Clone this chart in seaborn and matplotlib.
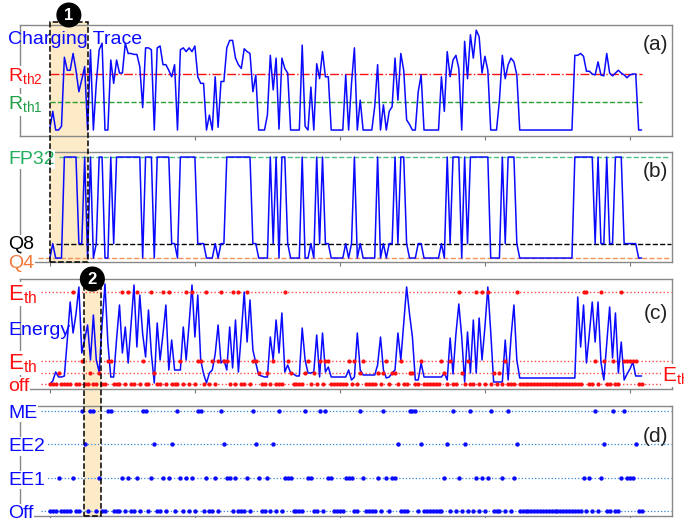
import numpy as np
import pandas as pd
import seaborn as sns
import matplotlib.pyplot as plt
import matplotlib.transforms as mtransforms
from matplotlib.patches import Rectangle

# ----------------------------------------
# DATA (one value per sample)
# ----------------------------------------

charging = [
    0.02, 0.2, 0, 0, 0.04, 0.78, 0.64, 0.64, 0.82, 0.64,
    0.41, 0.54, 0.68, 0, 0.86, 0, 0.5, 0.86, 0.93, 0,
    0, 0.75, 0.5, 0.75, 0.61, 0.61, 0.93, 0.82, 0.82, 0.81,
    0.81, 0.68, 0.24, 0.88, 0.88, 0.86, 0, 0.88, 0.9, 0.7,
    0.7, 0.64, 0.57, 0.7, 0, 0.86, 0.88, 0.84, 0.88, 0.84,
    0.9, 0.57, 0.5, 0.5, 0, 0.16, 0, 0.57, 0.03, 0.52,
    0.52, 0.88, 0.96, 0.96, 0.77, 0.7, 0.66, 0.87, 0.84, 0.82,
    0.41, 0.59, 0, 0, 0, 0.16, 0.8, 0.43, 0.77, 0.01,
    0.77, 0.66, 0.61, 0, 0, 0, 0, 0.91, 0.04, 0,
    0.46, 0, 0.71, 0.55, 0.84, 0.57, 0.57, 0, 0, 0,
    0, 0, 0.59, 0, 0.5, 0.88, 0, 0.32, 0, 0,
    0, 0, 0.25, 0.7, 0, 0.27, 0, 0.2, 0.25, 0.77,
    0.32, 0.82, 0.64, 0.11, 0.06, 0, 0, 0.41, 0.59, 0,
    0, 0, 0, 0, 0, 0.57, 0.2, 0.84, 0.57, 0.75,
    0.8, 0.66, 0, 0.95, 0.55, 1.02, 0.77, 1.07, 1.0, 0.61,
    0.79, 0.64, 0, 0, 0, 0.32, 0.8, 0.55, 0.7, 0.77,
    0.73, 0.59, 0, 0, 0, 0, 0, 0, 0, 0,
    0, 0, 0, 0, 0, 0, 0, 0, 0, 0,
    0, 0.8, 0.8, 0.82, 0.79, 0.63, 0.63, 0.6, 0.59, 0.73,
    0.59, 0.58, 0.82, 0.61, 0.58, 0.61, 0.64, 0.61, 0.59, 0.56,
    0.59, 0.6, 0.6, 0, 0,
]

# bit width chosen per sample (Q4 / Q8 / FP32)
precision = [
    4, 8, 4, 4, 4, 32, 32, 32, 32, 32,
    8, 8, 32, 4, 32, 4, 8, 32, 32, 4,
    4, 32, 8, 32, 32, 32, 32, 32, 32, 32,
    32, 32, 4, 32, 32, 32, 4, 32, 32, 32,
    32, 32, 8, 8, 4, 32, 32, 32, 32, 32,
    32, 8, 8, 8, 4, 4, 4, 8, 4, 8,
    8, 32, 32, 32, 32, 32, 32, 32, 32, 32,
    8, 8, 4, 4, 4, 4, 32, 8, 32, 4,
    32, 32, 8, 4, 4, 4, 4, 32, 4, 4,
    8, 4, 32, 8, 32, 8, 8, 4, 4, 4,
    4, 4, 8, 4, 8, 32, 4, 8, 4, 4,
    4, 4, 4, 32, 4, 8, 4, 8, 8, 32,
    8, 32, 32, 8, 4, 4, 4, 8, 8, 4,
    4, 4, 4, 4, 4, 8, 4, 32, 8, 32,
    32, 32, 4, 32, 8, 32, 32, 32, 32, 32,
    32, 32, 4, 4, 4, 4, 32, 8, 32, 32,
    32, 8, 4, 4, 4, 4, 4, 4, 4, 4,
    4, 4, 4, 4, 4, 4, 4, 4, 4, 4,
    4, 32, 32, 32, 32, 32, 32, 32, 8, 32,
    8, 8, 32, 8, 8, 32, 32, 32, 8, 8,
    8, 8, 8, 4, 4,
]

energy = [
    0.0, 0.03, 0.12, 0.07, 0.07, 0.08, 0.44, 0.82, 0.51, 0.7,
    0.97, 0.31, 0.45, 0.59, 0.24, 0.69, 0.24, 0.12, 0.6, 1.0,
    0.41, 0.07, 0.07, 0.45, 0.79, 0.31, 0.57, 0.21, 0.6, 0.99,
    0.37, 0.89, 0.5, 0.27, 0.74, 0.3, 0.01, 0.61, 0.24, 0.5,
    0.79, 0.14, 0.44, 0.14, 0.14, 0.14, 0.57, 0.24, 0.6, 0.99,
    0.47, 0.89, 0.24, 0.1, 0.01, 0.11, 0.14, 0.3, 0.59, 0.21,
    0.24, 0.14, 0.57, 0.16, 0.64, 0.12, 0.5, 0.92, 0.42, 0.84,
    0.34, 0.21, 0.09, 0.08, 0.07, 0.07, 0.47, 0.24, 0.64, 0.31,
    0.71, 0.12, 0.19, 0.11, 0.1, 0.08, 0.08, 0.56, 0.24, 0.11,
    0.11, 0.12, 0.49, 0.07, 0.51, 0.12, 0.17, 0.07, 0.07, 0.07,
    0.07, 0.07, 0.07, 0.14, 0.04, 0.07, 0.51, 0.14, 0.09, 0.09,
    0.09, 0.09, 0.09, 0.19, 0.47, 0.14, 0.06, 0.07, 0.11, 0.14,
    0.51, 0.24, 0.6, 0.97, 0.7, 0.47, 0.04, 0.04, 0.21, 0.07,
    0.07, 0.07, 0.07, 0.07, 0.07, 0.07, 0.11, 0.04, 0.46, 0.1,
    0.5, 0.8, 0.47, 0.02, 0.52, 0.11, 0.64, 0.11, 0.66, 0.24,
    0.57, 0.97, 0.52, 0.02, 0.02, 0.02, 0.02, 0.44, 0.04, 0.47,
    0.79, 0.24, 0.06, 0.06, 0.06, 0.06, 0.06, 0.06, 0.06, 0.06,
    0.06, 0.06, 0.06, 0.06, 0.06, 0.06, 0.06, 0.06, 0.06, 0.06,
    0.06, 0.06, 0.87, 0.37, 0.79, 0.21, 0.5, 0.82, 0.42, 0.82,
    0.22, 0.04, 0.4, 0.77, 0.26, 0.71, 0.11, 0.42, 0.04, 0.1,
    0.15, 0.22, 0.08, 0.08, 0.08,
]

# red markers in (c): samples sitting on each threshold line (rest are "off")
mark_hi = [8, 25, 27, 30, 35, 39, 41, 47, 49, 54, 59, 63, 65, 68, 81,
           141, 147, 149, 151, 161, 184, 185, 190, 197]
mark_mid = [11, 20, 21, 32, 45, 51, 52, 56, 58, 60, 61, 70, 71, 77, 82, 89,
            93, 95, 96, 103, 105, 108, 116, 121, 128, 135, 138, 144, 157,
            188, 191, 194, 198, 199, 200, 201, 202]
mark_lo = [3, 14, 17, 36, 72, 75, 83, 88, 91, 107, 113, 115, 118, 119, 124,
           125, 136, 142, 153, 155]

# exit taken in (d): samples per exit (rest are "Off")
exit_me = [11, 14, 15, 20, 21, 32, 33, 44, 51, 52, 59, 70, 79, 88, 93, 95,
           107, 115, 124, 125, 126, 139, 145, 152, 158, 188, 194, 198]
exit_ee2 = [12, 36, 42, 60, 71, 77, 120, 128, 137, 143, 161, 191, 202]
exit_ee1 = [3, 8, 17, 25, 27, 30, 35, 39, 41, 45, 47, 49, 54, 57, 61, 62,
            64, 68, 72, 75, 81, 82, 83, 89, 90, 96, 97, 102, 103, 104, 108,
            113, 116, 118, 119, 136, 141, 147, 149, 151, 156, 160, 184, 186,
            190, 197, 199, 200, 201]

rth1, rth2 = 0.3, 0.6
prec_names = ["FP32", "Q8", "Q4"]
prec_bits = [32, 8, 4]
eth_hi, eth_mid, eth_lo = 0.92, 0.23, 0.11
exit_names = ["Off", "EE1", "EE2", "ME"]

window1 = (0, 13.1)
window2 = (11.7, 17.6)

# ----------------------------------------
# BUILD TABLES
# ----------------------------------------

n = len(charging)
df = pd.DataFrame({"t": np.arange(n), "charging": charging,
                   "precision": precision, "energy": energy})

df["mark"] = 0.0
df.loc[mark_lo, "mark"] = eth_lo
df.loc[mark_mid, "mark"] = eth_mid
df.loc[mark_hi, "mark"] = eth_hi

df["exit"] = 0
df.loc[exit_ee1, "exit"] = 1
df.loc[exit_ee2, "exit"] = 2
df.loc[exit_me, "exit"] = 3

# ----------------------------------------
# FIGURE
# ----------------------------------------

sns.set_theme(style="white")
plt.rcParams["font.family"] = ["Liberation Sans", "DejaVu Sans"]
plt.rcParams["mathtext.fontset"] = "custom"
plt.rcParams["mathtext.rm"] = "Liberation Sans"

W, H = 684, 518
fig = plt.figure(figsize=(W / 100, H / 100), dpi=100)


def px_axes(top, bottom, left=20, right=672):
    return fig.add_axes([left / W, 1 - bottom / H, (right - left) / W, (bottom - top) / H])


ax_a = px_axes(25, 136)
ax_b = px_axes(152, 262)
ax_c = px_axes(279, 389)
ax_d = px_axes(406, 516)
axes = [ax_a, ax_b, ax_c, ax_d]

BLUE = "#0a0aff"
RED = "#ff1010"

# (a) charging trace
sns.lineplot(data=df, x="t", y="charging", ax=ax_a, color=BLUE, lw=1.1, zorder=3)
ax_a.hlines(rth2, 0, n - 1, colors=RED, linestyles="-.", lw=1.0, zorder=2)
ax_a.hlines(rth1, 0, n - 1, colors="#2a9d2a", linestyles="--", lw=1.0, zorder=2)
ax_a.set_ylim(-0.064, 1.125)

# (b) precision
prec_cols = ["#4cc285", "black", "#f4925a"]
prec_ranges = [(3, 213), (2, 214), (-4, 214)]
for bits, col, (x0, x1) in zip(prec_bits, prec_cols, prec_ranges):
    ax_b.hlines(bits, x0, x1, colors=col, linestyles="--", lw=1.0, zorder=2)
sns.lineplot(data=df, x="t", y="precision", ax=ax_b, color=BLUE, lw=1.1, zorder=3)
ax_b.set_ylim(2.9, 33.4)

# (c) energy + threshold markers
for lvl in [eth_hi, eth_mid, eth_lo, 0.0]:
    ax_c.hlines(lvl, -3, 214, colors="#ff4a4a", linestyles=":", lw=1.0, zorder=1)
sns.lineplot(data=df, x="t", y="energy", ax=ax_c, color=BLUE, lw=1.1, zorder=3)
sns.scatterplot(data=df, x="t", y="mark", ax=ax_c, color=RED, s=9,
                linewidth=0, zorder=4)
ax_c.set_ylim(-0.05, 1.05)

# (d) exits
for lvl in range(4):
    ax_d.hlines(lvl, -3, 214, colors="#2f86d6", linestyles=":", lw=0.9, zorder=1)
sns.scatterplot(data=df, x="t", y="exit", ax=ax_d, color=BLUE, s=10,
                linewidth=0, zorder=4)
ax_d.set_ylim(-0.15, 3.14)

for ax in axes:
    ax.set_xlim(-10.3, 214.5)
    ax.set_facecolor("none")
    ax.set_xlabel("")
    ax.set_ylabel("")
    ax.set_yticks([])
    ax.set_xticks([0, 50, 100, 150, 200])
    ax.set_xticklabels([])
    ax.tick_params(axis="x", length=3, width=0.8, color="#777777", direction="out",
                   bottom=True)
    for s in ax.spines.values():
        s.set_color("#888888")
        s.set_linewidth(1.0)

# ----------------------------------------
# LABELS
# ----------------------------------------

LX = (8 - 20) / 652
white = dict(facecolor="white", edgecolor="none", pad=0.6)


def left_label(ax, text, y, color, size=14, drop=7, bbox=True):
    tr = mtransforms.blended_transform_factory(ax.transAxes, ax.transData)
    tr = mtransforms.offset_copy(tr, fig=fig, y=-drop, units="dots")
    ax.text(LX, y, text, transform=tr, color=color, fontsize=size, ha="left",
            va="baseline", bbox=white if bbox else None, clip_on=False, zorder=6)


ax_a.text(LX, 0.865, "Charging Trace", transform=ax_a.transAxes, color=BLUE,
          fontsize=14, ha="left", va="center", zorder=6)
left_label(ax_a, r"R$_\mathregular{th2}$", rth2, RED, drop=8)
left_label(ax_a, r"R$_\mathregular{th1}$", rth1, "#1f9f45", drop=8)

left_label(ax_b, "FP32", 32, "#22ad5c", drop=7)
left_label(ax_b, "Q8", 8, "black", drop=5)
left_label(ax_b, "Q4", 4, "#f07a3a", drop=10)

left_label(ax_c, r"E$_\mathregular{th}$", eth_hi, RED, size=16, drop=8)
ax_c.text(LX, 0.536, "Energy", transform=ax_c.transAxes, color=BLUE,
          fontsize=14, ha="left", va="center", zorder=6)
left_label(ax_c, r"E$_\mathregular{th}$", eth_mid, RED, size=16, drop=8)
left_label(ax_c, "off", 0.0, RED, drop=7)
tr_r = mtransforms.blended_transform_factory(ax_c.transAxes, ax_c.transData)
tr_r = mtransforms.offset_copy(tr_r, fig=fig, y=-8, units="dots")
ax_c.text((662 - 20) / 652, eth_lo, r"E$_\mathregular{th}$", transform=tr_r,
          color=RED, fontsize=15, ha="left", va="baseline", bbox=white,
          clip_on=False, zorder=6)

for lvl, name in enumerate(exit_names):
    left_label(ax_d, name, lvl, BLUE, drop=7)

for ax, tag, yy in zip(axes, ["(a)", "(b)", "(c)", "(d)"], [0.82, 0.82, 0.69, 0.72]):
    ax.text(0.994, yy, tag, transform=ax.transAxes, fontsize=15, color="#222222",
            ha="right", va="center", zorder=6)

# ----------------------------------------
# HIGHLIGHT WINDOWS + BADGES
# ----------------------------------------

inv = fig.transFigure.inverted()


def fig_x(ax, x):
    return inv.transform(ax.transData.transform((x, 0)))[0]


def window(ax, win, top_px, bottom_ax, badge, badge_px):
    x0, x1 = fig_x(ax, win[0]), fig_x(ax, win[1])
    y1 = 1 - top_px / H
    y0 = bottom_ax.get_position().y0
    fig.add_artist(Rectangle((x0, y0), x1 - x0, y1 - y0, transform=fig.transFigure,
                             facecolor="#fdebc8", edgecolor="none", zorder=-1))
    fig.add_artist(Rectangle((x0, y0), x1 - x0, y1 - y0, transform=fig.transFigure,
                             facecolor="none", edgecolor="black", ls="--", lw=1.1,
                             zorder=5))
    fig.text((x0 + x1) / 2, 1 - badge_px / H, badge, ha="center", va="center",
             color="white", fontsize=12, fontweight="bold", zorder=7,
             bbox=dict(boxstyle="circle,pad=0.26", fc="black", ec="black"))


window(ax_a, window1, 22, ax_b, "1", 15)
window(ax_c, window2, 288, ax_d, "2", 279)

fig.savefig("out.png", dpi=100, facecolor="white")
